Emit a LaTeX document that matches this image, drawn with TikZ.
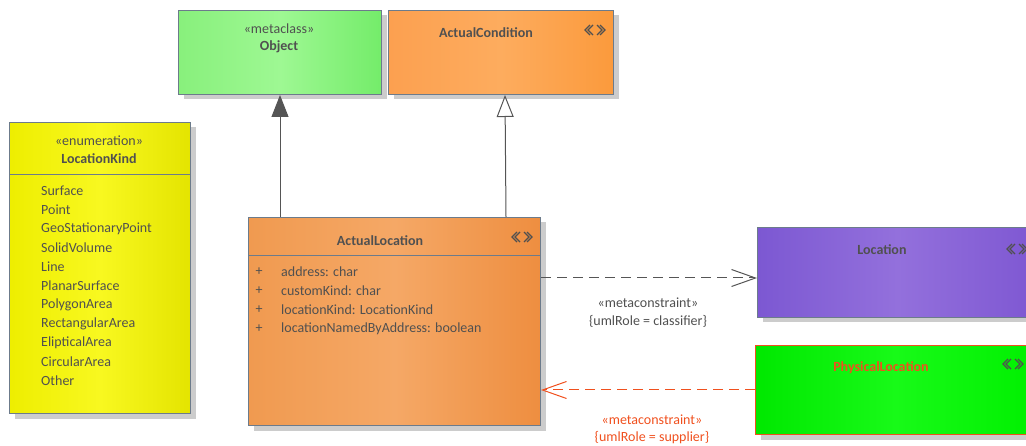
\documentclass[tikz,border=0pt]{standalone}
\usepackage{fontspec}
\setmainfont{Carlito}
\usetikzlibrary{arrows.meta,calc,shadows}
\definecolor{bordc}{HTML}{6C7B8B}
\definecolor{txtc}{HTML}{505050}
\definecolor{shc}{HTML}{CCCCCC}
\definecolor{redc}{HTML}{F0501E}
\definecolor{linec}{HTML}{555555}
\definecolor{gA}{HTML}{88F07C}\definecolor{gB}{HTML}{9EF893}\definecolor{gC}{HTML}{74EC6A}
\definecolor{oA}{HTML}{FCA050}\definecolor{oB}{HTML}{FDAC5E}\definecolor{oC}{HTML}{FB9A3C}
\definecolor{yA}{HTML}{EEEE00}\definecolor{yB}{HTML}{F8F820}\definecolor{yC}{HTML}{E4E400}
\definecolor{aA}{HTML}{F09A50}\definecolor{aB}{HTML}{F5A866}\definecolor{aC}{HTML}{EE8E40}
\definecolor{pA}{HTML}{7C58D2}\definecolor{pB}{HTML}{9370DC}\definecolor{pC}{HTML}{7E57D2}
\definecolor{lA}{HTML}{00E800}\definecolor{lB}{HTML}{18FA18}\definecolor{lC}{HTML}{00F000}
\tikzset{
  umlbox/.style={draw=bordc, line width=1pt, rectangle, inner sep=0pt, anchor=north west,
    drop shadow={shadow xshift=5pt, shadow yshift=-5pt, fill=shc, opacity=1, draw=none}},
  lbl/.style={text=txtc, inner sep=0pt, font=\fontsize{14}{16}\selectfont},
  ttl/.style={lbl, font=\fontsize{14}{16}\selectfont\bfseries},
  item/.style={lbl, anchor=west},
  stereo/.pic={
    \draw[txtc, line width=1.1pt, line join=miter]
      (-5,-5) -- (-10,0) -- (-5,5)
      (-2,-5) -- (-7,0) -- (-2,5)
      (5,-5) -- (10,0) -- (5,5)
      (2,-5) -- (7,0) -- (2,5);
  },
  genfilled/.style={draw=linec, line width=1pt, -{Triangle[length=22pt,width=17pt,fill=linec]}},
  genopen/.style={draw=linec, line width=1pt, -{Triangle[length=22pt,width=17pt,fill=white]}},
  depgrey/.style={draw=linec, line width=1pt, dash pattern=on 10pt off 6pt, -{Straight Barb[length=24pt,width=17pt]}},
  depred/.style={draw=redc, line width=1pt, dash pattern=on 10pt off 6pt, -{Straight Barb[length=24pt,width=17pt]}},
}
\begin{document}
\begin{tikzpicture}[x=1pt,y=-1pt]
\useasboundingbox (0,0) rectangle (1026,446);
% ---- boxes
\node[umlbox, minimum width=203pt, minimum height=84pt,
  left color=gA, right color=gC, middle color=gB] (obj) at (178,10) {};
\node[umlbox, minimum width=225pt, minimum height=84pt,
  left color=oA, right color=oC, middle color=oB] (ac) at (388,10) {};
\node[umlbox, minimum width=181pt, minimum height=291pt,
  left color=yA, right color=yC, middle color=yB] (lk) at (9,122) {};
\node[umlbox, minimum width=292pt, minimum height=208pt,
  left color=aA, right color=aC, middle color=aB] (al) at (248,217) {};
\node[umlbox, minimum width=280pt, minimum height=90pt,
  left color=pA, right color=pC, middle color=pB] (loc) at (757,227) {};
\node[umlbox, draw=redc, minimum width=280pt, minimum height=89pt,
  left color=lA, right color=lC, middle color=lB] (phys) at (755,345) {};
% ---- dividers
\draw[bordc, line width=1pt] ($(lk.north west)+(0,53)$) -- ($(lk.north east)+(0,53)$);
\draw[bordc, line width=1pt] ($(al.north west)+(0,39)$) -- ($(al.north east)+(0,39)$);
% ---- texts
\node[lbl] (objst) at (279,29) {«metaclass»};
\node[ttl] (objt) at (279,47) {Object};
\node[ttl] (act) at (486,33) {ActualCondition};
\pic at (595,30) {stereo};
\node[lbl] (lkst) at (99,141) {«enumeration»};
\node[ttl] (lkt) at (99,159) {LocationKind};
\foreach \t [count=\i from 0] in {Surface,Point,GeoStationaryPoint,SolidVolume,Line,PlanarSurface,PolygonArea,RectangularArea,ElipticalArea,CircularArea,Other}
  \node[item] (lki\i) at (41,{191+18.95*\i}) {\t};
\node[ttl] (alt) at (380,241) {ActualLocation};
\pic at (522,237) {stereo};
\foreach \t [count=\i from 0] in {address: char,customKind: char,locationKind: LocationKind,locationNamedByAddress: boolean}{
  \node[lbl] (alp\i) at (259,{272+19*\i}) {+};
  \node[item] (ala\i) at (281,{272+19*\i}) {\t};
}
\node[ttl] (loct) at (882,250) {Location};
\pic at (1017,249) {stereo};
\node[ttl, text=redc] (physt) at (881,368) {PhysicalLocation};
\pic at (1013,364) {stereo};
% ---- connectors
\draw[genfilled] (al.north -| obj.south) -- (obj.south);
\draw[genopen] ($(al.north east)+(-35,0)$) -- ($(ac.south west)+(117,0)$);
\coordinate (c1) at ($(al.north east)+(0,61)$);
\draw[depgrey] (c1) -- (c1 -| loc.west);
\draw[depred] (phys.west) -- (phys.west -| al.east);
\node[lbl] (m1) at (648,303) {«metaconstraint»};
\node[lbl] (r1) at (648,321) {\{umlRole = classifier\}};
\node[lbl, text=redc] (m2) at (652,420) {«metaconstraint»};
\node[lbl, text=redc] (r2) at (652,438) {\{umlRole = supplier\}};
\end{tikzpicture}
\end{document}
